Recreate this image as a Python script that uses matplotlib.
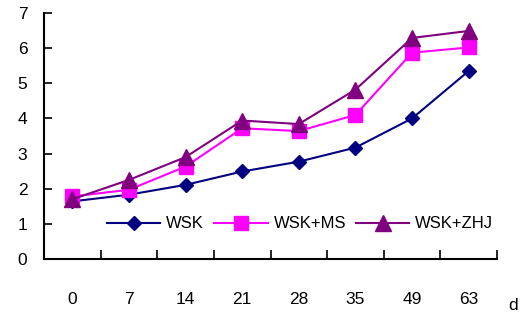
import matplotlib
matplotlib.use("Agg")
import matplotlib.pyplot as plt
import numpy as np

plt.rcParams['font.family'] = ['Liberation Sans', 'DejaVu Sans']

days = ["0", "7", "14", "21", "28", "35", "49", "63"]
wsk = [1.64, 1.83, 2.11, 2.49, 2.77, 3.17, 4.00, 5.35]
wsk_ms = [1.78, 1.97, 2.63, 3.72, 3.64, 4.10, 5.87, 6.02]
wsk_zhj = [1.70, 2.25, 2.90, 3.94, 3.84, 4.82, 6.29, 6.49]
series_names = ["WSK", "WSK+MS", "WSK+ZHJ"]
y_ticks = [0, 1, 2, 3, 4, 5, 6, 7]

fig = plt.figure(figsize=(5.31, 3.17), dpi=100)
ax = fig.add_axes([44/531, 58/317, 453/531, 246/317])

x = np.arange(len(days))
ax.plot(x, wsk, color="#000080", lw=1.5, marker="D", ms=7.5, label=series_names[0])
ax.plot(x, wsk_ms, color="#FF00FF", lw=1.5, marker="s", ms=10.5, label=series_names[1])
ax.plot(x, wsk_zhj, color="#800080", lw=1.5, marker="^", ms=11, label=series_names[2])

ax.set_xlim(-0.5, len(days) - 0.5)
ax.set_ylim(0, 7)
ax.set_yticks(y_ticks)
ax.set_yticklabels([str(v) for v in y_ticks], fontsize=12.5)

ax.set_xticks(np.arange(len(days) + 1) - 0.5)
ax.set_xticklabels([])
ax.set_xticks(x, minor=True)
ax.set_xticklabels(days, minor=True, fontsize=12.5)
ax.tick_params(axis="x", which="major", direction="in", length=6.5, width=1.2)
ax.tick_params(axis="x", which="minor", length=0, pad=24)
ax.tick_params(axis="y", direction="in", length=6, width=1.2, pad=12)

for s in ["top", "right"]:
    ax.spines[s].set_visible(False)
for s in ["left", "bottom"]:
    ax.spines[s].set_linewidth(1.5)

leg = ax.legend(ncol=3, frameon=False, loc="center left",
                bbox_to_anchor=(107/531, 93/317), bbox_transform=fig.transFigure,
                borderaxespad=0, borderpad=0, handlelength=3.2, handletextpad=0.36,
                columnspacing=0.6, prop={"family": "Liberation Sans", "size": 12})

fig.text(513/531, 12/317, "d", fontsize=12.5, ha="center", va="center")

fig.savefig("out.png", dpi=100)
